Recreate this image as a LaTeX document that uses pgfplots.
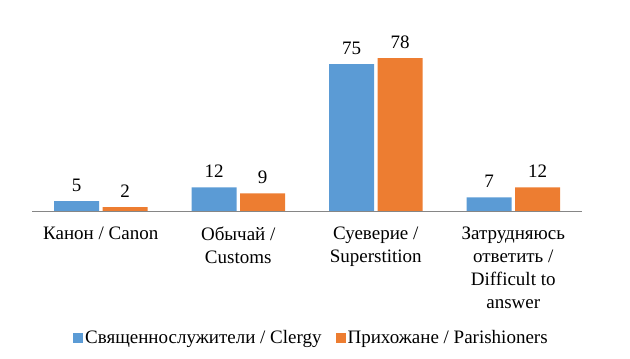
\documentclass[border=0pt]{standalone}
\usepackage{pgfplots}
\pgfplotsset{compat=1.18}
\usepackage{fontspec}
\setmainfont{Liberation Serif}
\newfontfamily\tnr{Liberation Serif}
\definecolor{cblue}{HTML}{5B9BD5}
\definecolor{corange}{HTML}{ED7D31}
\definecolor{axgray}{HTML}{868686}
\begin{document}
\tnr\fontsize{19bp}{23bp}\selectfont
\begin{tikzpicture}[x=1bp,y=1bp, font=\tnr]
\begin{axis}[
  at={(0,0)}, anchor=south west,
  scale only axis,
  width=550bp, height=196bp,
  xmin=-0.5, xmax=3.5,
  ymin=0, ymax=100,
  ybar=3.5bp, bar width=45bp,
  axis on top,
  axis x line*=bottom,
  axis y line=none,
  x axis line style={axgray, line width=0.9pt, -},
  xtick={0,1,2,3},
  xticklabels={{Канон / Canon},{Обычай /\\Customs},{Суеверие /\\Superstition},{Затрудняюсь\\ответить /\\Difficult to\\answer}},
  major tick length=0pt,
  xticklabel style={align=center, font=\tnr\fontsize{19bp}{23bp}\selectfont, yshift=-9bp, text=black},
  /pgf/number format/assume math mode=true,
  nodes near coords,
  nodes near coords style={font=\tnr\fontsize{19bp}{23bp}\selectfont, text=black, yshift=3bp},
  legend columns=2,
  legend style={draw=none, at={(0.508,-0.648)}, anchor=center, font=\tnr\fontsize{19bp}{23bp}\selectfont,
    /tikz/every even column/.append style={column sep=12bp}, inner sep=0pt},
  legend image code/.code={\fill[#1] (0bp,-5bp) rectangle (10bp,5bp);},
]
\addplot[fill=cblue, draw=none] coordinates {(0,5) (1,12) (2,75) (3,7)};
\addplot[fill=corange, draw=none] coordinates {(0,2) (1,9) (2,78) (3,12)};
\legend{Священнослужители / Clergy, Прихожане / Parishioners}
\end{axis}
\pgfresetboundingbox
\useasboundingbox (-32,-147) rectangle (598,211);
\end{tikzpicture}
\end{document}
